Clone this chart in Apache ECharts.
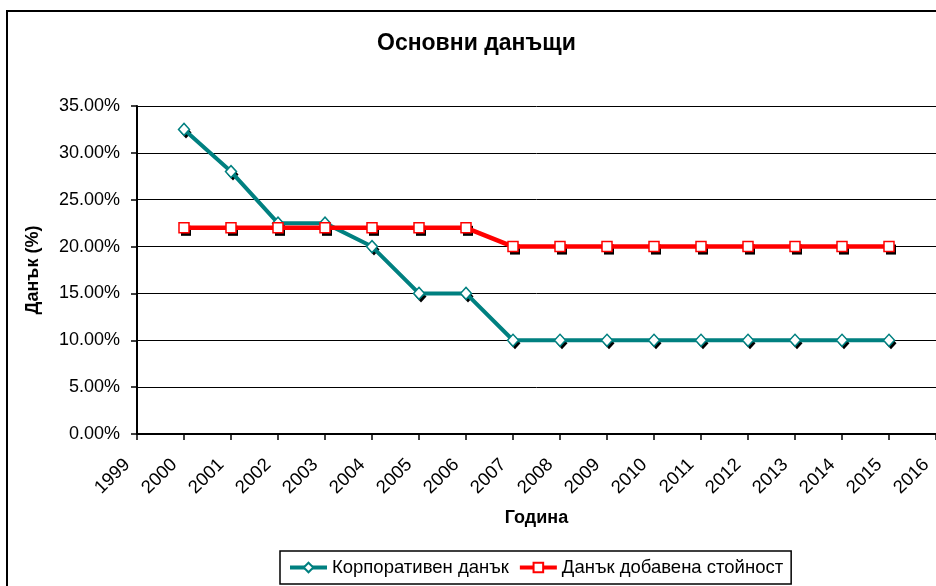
<!DOCTYPE html>
<html>
<head>
<meta charset="utf-8">
<script src="https://cdn.jsdelivr.net/npm/echarts@6/dist/echarts.min.js"></script>
<style>
html,body{margin:0;padding:0;background:#fff}
#chart{width:936px;height:586px}
</style>
</head>
<body>
<div id="chart"></div>
<script>
// години и стойности (в %)
var years = [2000, 2001, 2002, 2003, 2004, 2005, 2006, 2007, 2008, 2009, 2010, 2011, 2012, 2013, 2014, 2015]
var corpTax = [32.5, 28, 22.5, 22.5, 20, 15, 15, 10, 10, 10, 10, 10, 10, 10, 10, 10]
var vatTax = [22, 22, 22, 22, 22, 22, 22, 20, 20, 20, 20, 20, 20, 20, 20, 20]
var seriesNames = ['Корпоративен данък', 'Данък добавена стойност']

var font = 'Liberation Sans, Arial, sans-serif'

var pairs = function (vals) {
    let out = []
    years.forEach((y, i) => {
        out.push([y, vals[i]])
    })
    return out
}

// черна "сянка" под маркерите, като в Excel
var shadow = function (vals, sym, size) {
    return {
        type: 'line',
        data: pairs(vals),
        symbol: sym,
        symbolSize: size,
        symbolOffset: [2, 3],
        lineStyle: {width: 0, opacity: 0},
        itemStyle: {color: '#000', borderWidth: 0},
        silent: true,
        z: 1
    }
}

var chart = echarts.init(document.getElementById('chart'))
chart.setOption({
    animation: false,
    title: {
        text: 'Основни данъщи',
        left: 377,
        top: 32,
        padding: 0,
        textStyle: {fontFamily: font, fontSize: 23, fontWeight: 'bold', color: '#000'}
    },
    grid: {
        left: 137,
        right: -2,
        top: 106,
        bottom: 152
    },
    legend: {
        left: 280,
        top: 551,
        padding: [7, 8, 7, 8],
        itemGap: 9,
        itemWidth: 37,
        itemHeight: 12,
        borderColor: '#000',
        borderWidth: 1.5,
        textStyle: {fontFamily: font, fontSize: 18.5, color: '#000'},
        lineStyle: {width: 4},
        data: seriesNames
    },
    xAxis: {
        type: 'value',
        min: 1999,
        max: 2016,
        interval: 1,
        name: 'Година',
        nameLocation: 'middle',
        nameGap: 75,
        nameTextStyle: {fontFamily: font, fontSize: 18, fontWeight: 'bold', color: '#000'},
        axisLine: {lineStyle: {color: '#000', width: 2}},
        axisTick: {show: true, length: 6, lineStyle: {color: '#000', width: 1.5}},
        axisLabel: {
            rotate: 45,
            margin: 18,
            padding: [0, 14, 0, 0],
            fontFamily: font,
            fontSize: 18.5,
            color: '#000',
            formatter: function (v) { return String(v) }
        },
        splitLine: {show: false}
    },
    yAxis: {
        type: 'value',
        min: 0,
        max: 35,
        interval: 5,
        name: 'Данък (%)',
        nameLocation: 'middle',
        nameGap: 95,
        nameTextStyle: {fontFamily: font, fontSize: 18, fontWeight: 'bold', color: '#000'},
        axisLine: {show: true, lineStyle: {color: '#000', width: 2}},
        axisTick: {show: true, length: 6, lineStyle: {color: '#000', width: 1.5}},
        axisLabel: {
            margin: 17,
            fontFamily: font,
            fontSize: 18,
            color: '#000',
            formatter: function (v) { return v.toFixed(2) + '%' }
        },
        splitLine: {show: true, lineStyle: {color: '#000', width: 1}}
    },
    graphic: [{
        type: 'rect',
        shape: {x: 7, y: 11, width: 960, height: 620},
        style: {fill: 'none', stroke: '#000', lineWidth: 2},
        silent: true
    }],
    series: [
        shadow(corpTax, 'diamond', [11, 12]),
        shadow(vatTax, 'rect', 10),
        {
            name: seriesNames[0],
            type: 'line',
            data: pairs(corpTax),
            symbol: 'diamond',
            symbolSize: [11, 12],
            lineStyle: {color: '#008080', width: 4},
            itemStyle: {color: '#fff', borderColor: '#008080', borderWidth: 1.5},
            z: 2
        },
        {
            name: seriesNames[1],
            type: 'line',
            data: pairs(vatTax),
            symbol: 'rect',
            symbolSize: 10,
            lineStyle: {color: '#ff0000', width: 4.5},
            itemStyle: {color: '#fff', borderColor: '#ff0000', borderWidth: 1.5},
            z: 3
        }
    ]
})
</script>
</body>
</html>
